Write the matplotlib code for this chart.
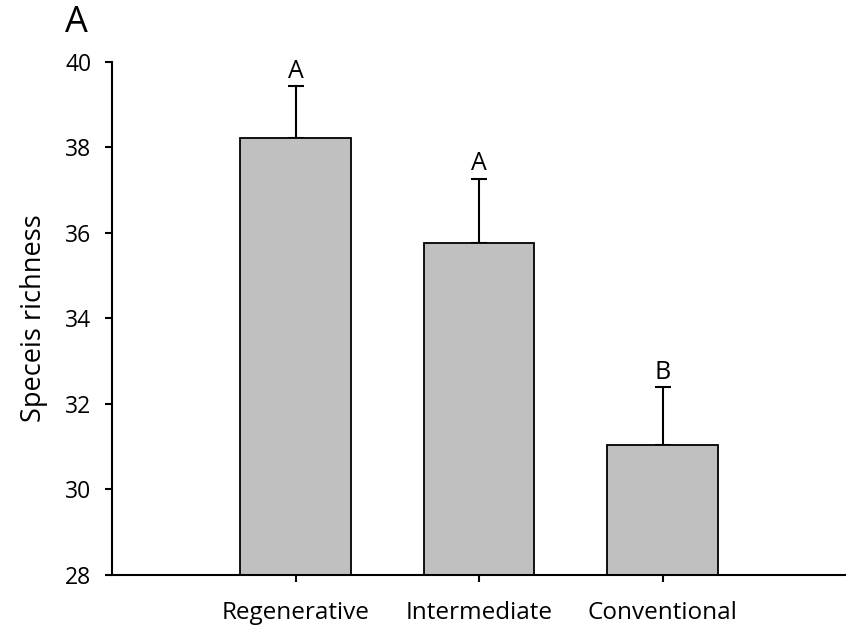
import matplotlib as mpl
mpl.use('Agg')
import matplotlib.pyplot as plt
import numpy as np

categories = ['Regenerative', 'Intermediate', 'Conventional']
richness = [38.23, 35.76, 31.03]
sem = [1.20, 1.50, 1.36]
letters = ['A', 'A', 'B']

plt.rcParams['font.family'] = ['Open Sans', 'DejaVu Sans']

fig = plt.figure(figsize=(8.46, 6.3), dpi=100)
ax = fig.add_axes([0.1324, 0.0873, 0.8676, 0.8143])

x = np.arange(1, len(categories) + 1)
ax.bar(x, [r - 28 for r in richness], width=0.6, bottom=28,
       color='#c0c0c0', edgecolor='black', linewidth=1.3, zorder=2)
ax.errorbar(x, richness, yerr=[np.zeros(len(sem)), sem], fmt='none',
            ecolor='black', elinewidth=1.5, capsize=5.5, capthick=1.5, zorder=1)

for xi, r, s, lab in zip(x, richness, sem, letters):
    ax.annotate(lab, (xi, r + s), xytext=(0, 2), textcoords='offset points',
                ha='center', va='bottom', fontsize=18)

# formatting
ax.set_xlim(0, 4)
ax.set_ylim(28, 40)
ax.set_yticks(np.arange(28, 41, 2))
ax.set_xticks(x)
ax.set_xticklabels(categories)
ax.tick_params(axis='both', direction='out', length=5, width=1.5, colors='black')
ax.tick_params(axis='x', pad=14, labelsize=17.5)
ax.tick_params(axis='y', pad=10, labelsize=16.5)
ax.spines['top'].set_visible(False)
ax.spines['right'].set_visible(False)
ax.spines['left'].set_linewidth(1.5)
ax.spines['bottom'].set_linewidth(1.5)
ax.set_ylabel('Speceis richness', fontsize=19.5, labelpad=12)
fig.text(0.077, 0.963, 'A', fontsize=26, ha='left', va='center')

fig.savefig('out.png', dpi=100)
